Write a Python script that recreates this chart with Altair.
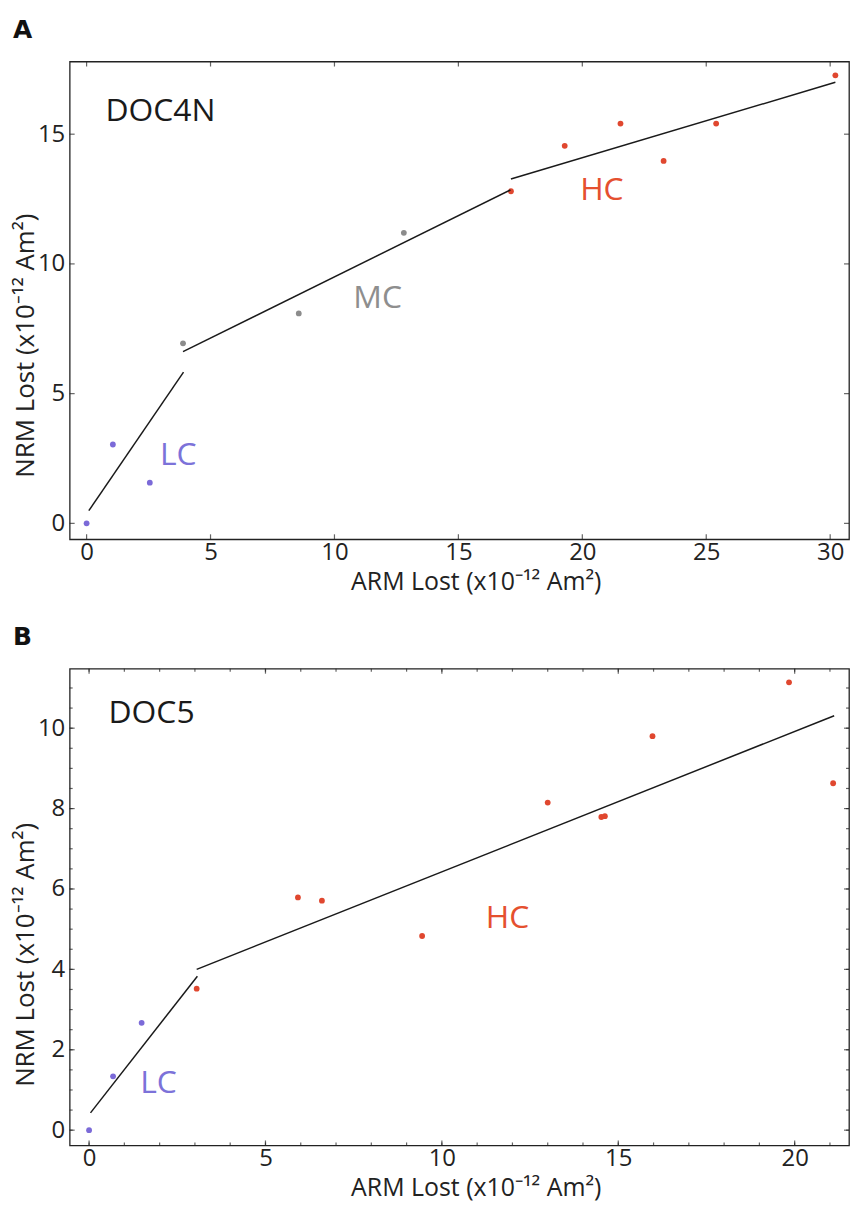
import altair as alt
import pandas as pd

FONT = "Open Sans"
BLUE_PT, GRAY_PT, RED_PT = "#7b6ad8", "#8c8c8c", "#e0472f"
BLUE_TX, GRAY_TX, RED_TX = "#7c72d9", "#8e8e8e", "#e5502f"
X_TITLE = "ARM Lost (x10⁻¹² Am²)"
Y_TITLE = "NRM Lost (x10⁻¹² Am²)"

# ---------------- Panel A (DOC4N) ----------------
a_lc_x = [0.0, 1.06, 2.55]
a_lc_y = [0.0, 3.04, 1.57]
a_mc_x = [3.89, 8.56, 12.80]
a_mc_y = [6.94, 8.09, 11.20]
a_hc_x = [17.12, 19.29, 21.54, 23.28, 25.40, 30.21]
a_hc_y = [12.80, 14.55, 15.41, 13.97, 15.41, 17.27]
a_seg_x1 = [0.09, 3.89, 17.12]
a_seg_y1 = [0.49, 6.62, 13.27]
a_seg_x2 = [3.91, 17.10, 30.21]
a_seg_y2 = [5.83, 12.85, 17.00]
a_lab = ["LC", "MC", "HC"]
a_lab_x = [3.70, 11.74, 20.79]
a_lab_y = [2.63, 8.67, 12.85]
a_name, a_name_x, a_name_y = "DOC4N", 0.76, 15.88
a_xticks = [0, 5, 10, 15, 20, 25, 30]
a_yticks = [0, 5, 10, 15]

# ---------------- Panel B (DOC5) ----------------
b_lc_x = [0.0, 0.68, 1.49]
b_lc_y = [0.0, 1.34, 2.67]
b_hc_x = [3.05, 5.92, 6.60, 9.44, 13.00, 14.52, 14.62, 15.97, 19.84, 21.09]
b_hc_y = [3.52, 5.79, 5.71, 4.83, 8.15, 7.79, 7.81, 9.80, 11.14, 8.63]
b_seg_x1 = [0.04, 3.05]
b_seg_y1 = [0.43, 4.00]
b_seg_x2 = [3.07, 21.12]
b_seg_y2 = [3.83, 10.31]
b_lab = ["LC", "HC"]
b_lab_x = [1.97, 11.86]
b_lab_y = [1.16, 5.28]
b_name, b_name_x, b_name_y = "DOC5", 0.55, 10.37
b_xticks = [0, 5, 10, 15, 20]
b_yticks = [0, 2, 4, 6, 8, 10]
b_xminor = list(range(0, 22))
b_yminor = [i * 0.5 for i in range(0, 23)]


def panel(pts, segs, labs, name, xdom, ydom, W, H, xmaj, ymaj, xmin, ymin,
          letter, ytitle_y):
    xs = alt.Scale(domain=xdom, nice=False, zero=False)
    ys = alt.Scale(domain=ydom, nice=False, zero=False)
    xaxis = alt.Axis(values=xmaj, ticks=False, domain=False, grid=False,
                     labelFont=FONT, labelFontSize=24, labelColor="#222",
                     labelPadding=1, labelFlush=False, labelOverlap=False,
                     title=X_TITLE, titleFont=FONT, titleFontSize=25,
                     titleFontWeight="normal", titleColor="#222",
                     titleX=408, titleY=42, titleAlign="center",
                     titleBaseline="middle")
    yaxis = alt.Axis(values=ymaj, ticks=False, domain=False, grid=False,
                     labelFont=FONT, labelFontSize=24, labelColor="#222",
                     labelPadding=5, labelFlush=False, labelOverlap=False,
                     title=Y_TITLE, titleFont=FONT, titleFontSize=26,
                     titleFontWeight="normal", titleColor="#222",
                     titleX=-44, titleY=ytitle_y, titleAngle=-90,
                     titleAlign="center", titleBaseline="middle")

    def X(f):
        return alt.X(f, type="quantitative", scale=xs, axis=xaxis)

    def Y(f):
        return alt.Y(f, type="quantitative", scale=ys, axis=yaxis)

    rules = alt.Chart(segs).mark_rule(color="#1a1a1a", strokeWidth=1.5).encode(
        x=X("x1"), y=Y("y1"), x2="x2", y2="y2")
    dots = alt.Chart(pts).mark_circle(size=34, opacity=1).encode(
        x=X("x"), y=Y("y"), color=alt.Color("col:N", scale=None))
    labels = alt.Chart(labs).mark_text(font=FONT, fontSize=32, align="center",
                                       baseline="middle").encode(
        x=X("x"), y=Y("y"), text="lab:N", color=alt.Color("col:N", scale=None))
    nm = alt.Chart(name).mark_text(font=FONT, fontSize=32, align="left",
                                   baseline="middle", color="#1a1a1a").encode(
        x=X("x"), y=Y("y"), text="lab:N")

    L, l = 5, 3
    tick_col = "#222"
    xmaj_df = pd.DataFrame({"v": xmaj})
    ymaj_df = pd.DataFrame({"v": ymaj})
    xmin_df = pd.DataFrame({"v": xmin})
    ymin_df = pd.DataFrame({"v": ymin})
    ticks = []
    for df, size in [(xmaj_df, L), (xmin_df, l)]:
        if len(df):
            ticks.append(alt.Chart(df).mark_tick(orient="vertical", size=size,
                                                 thickness=1.2, color=tick_col)
                         .encode(x=X("v"), y=alt.value(H - size / 2)))
            ticks.append(alt.Chart(df).mark_tick(orient="vertical", size=size,
                                                 thickness=1.2, color=tick_col)
                         .encode(x=X("v"), y=alt.value(size / 2)))
    for df, size in [(ymaj_df, L), (ymin_df, l)]:
        if len(df):
            ticks.append(alt.Chart(df).mark_tick(orient="horizontal", size=size,
                                                 thickness=1.2, color=tick_col)
                         .encode(y=Y("v"), x=alt.value(size / 2)))
            ticks.append(alt.Chart(df).mark_tick(orient="horizontal", size=size,
                                                 thickness=1.2, color=tick_col)
                         .encode(y=Y("v"), x=alt.value(W - size / 2)))

    return alt.layer(dots, rules, labels, nm, *ticks).properties(
        width=W, height=H,
        title=alt.TitleParams(letter, anchor="start", frame="group", dx=-57,
                              fontSize=25, font="DejaVu Sans", fontWeight="bold",
                              color="#111", offset=-1, baseline="alphabetic"))


def pts_df(groups):
    rows = []
    for xs_, ys_, col in groups:
        for x, y in zip(xs_, ys_):
            rows.append({"x": x, "y": y, "col": col})
    return pd.DataFrame(rows)


a_pts = pts_df([(a_lc_x, a_lc_y, BLUE_PT), (a_mc_x, a_mc_y, GRAY_PT),
                (a_hc_x, a_hc_y, RED_PT)])
a_segs = pd.DataFrame({"x1": a_seg_x1, "y1": a_seg_y1, "x2": a_seg_x2, "y2": a_seg_y2})
a_labs = pd.DataFrame({"lab": a_lab, "x": a_lab_x, "y": a_lab_y,
                       "col": [BLUE_TX, GRAY_TX, RED_TX]})
a_nm = pd.DataFrame({"lab": [a_name], "x": [a_name_x], "y": [a_name_y]})

b_pts = pts_df([(b_lc_x, b_lc_y, BLUE_PT), (b_hc_x, b_hc_y, RED_PT)])
b_segs = pd.DataFrame({"x1": b_seg_x1, "y1": b_seg_y1, "x2": b_seg_x2, "y2": b_seg_y2})
b_labs = pd.DataFrame({"lab": b_lab, "x": b_lab_x, "y": b_lab_y,
                       "col": [BLUE_TX, RED_TX]})
b_nm = pd.DataFrame({"lab": [b_name], "x": [b_name_x], "y": [b_name_y]})

pA = panel(a_pts, a_segs, a_labs, a_nm, [-0.683, 30.76], [-0.614, 17.80],
           783, 480, a_xticks, a_yticks, [], [], "A", 285)
pB = panel(b_pts, b_segs, b_labs, b_nm, [-0.55, 21.54], [-0.38, 11.48],
           783, 479, b_xticks, b_yticks, b_xminor, b_yminor, "B", 287)

chart = alt.vconcat(pA, pB, spacing=29).properties(
    padding={"left": 12, "top": 14, "right": 0, "bottom": 0},
    background="white"
).configure_view(stroke="#222", strokeWidth=1.3)

chart.save("out.html", embed_options={"renderer": "svg", "actions": False})
